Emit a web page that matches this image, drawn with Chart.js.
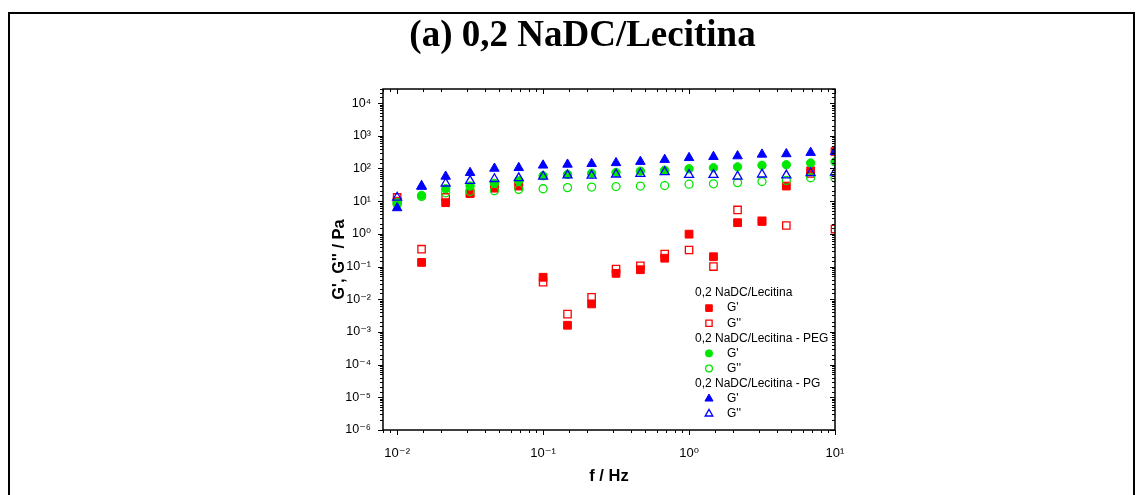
<!DOCTYPE html>
<html>
<head>
<meta charset="utf-8">
<title>0,2 NaDC/Lecitina</title>
<script src="https://cdn.jsdelivr.net/npm/chart.js@4.4.1/dist/chart.umd.min.js"></script>
<style>
    html, body { margin: 0; padding: 0; background: #fff; }
    #wrap { position: relative; width: 1141px; height: 495px; overflow: hidden; }
    #frame {
        position: absolute; left: 8px; top: 12px; width: 1123px; height: 500px;
        border-left: 2px solid #000; border-top: 2px solid #000; border-right: 2px solid #000;
    }
    canvas { position: absolute; left: 0; top: 0; }
</style>
</head>
<body>
<div id="wrap">
    <div id="frame"></div>
    <canvas id="rheoChart" width="1141" height="495"></canvas>
</div>
<script>
// frequency (Hz)
const freq = [0.01, 0.0147, 0.0215, 0.0316, 0.0464, 0.0681, 0.1, 0.147, 0.215, 0.316,
              0.464, 0.681, 1, 1.47, 2.15, 3.16, 4.64, 6.81, 10];

// 0,2 NaDC/Lecitina
const lecGp  = [10, 0.134, 9, 17, 25, 29, 0.047, 0.0016, 0.0072, 0.062,
                0.08, 0.18, 0.98, 0.2, 2.2, 2.4, 29, 85, 330];
const lecGpp = [13, 0.34, 13, 18, 27, 31, 0.033, 0.0035, 0.0115, 0.084,
                0.106, 0.24, 0.32, 0.1, 5.4, 2.5, 1.8, 70, 1.4];

// 0,2 NaDC/Lecitina - PEG
const pegGp  = [9, 15, 24, 29, 35, 42, 60, 66, 71, 76,
                83, 88, 98, 105, 112, 125, 130, 147, 160];
const pegGpp = [8, 14, 18, 20, 21, 23, 24, 26, 27, 28,
                29, 30, 33, 34, 37, 40, 43, 52, 51];

// 0,2 NaDC/Lecitina - PG
const pgGp  = [6.2, 28, 57, 74, 100, 105, 125, 133, 139, 148,
               162, 186, 212, 229, 240, 270, 278, 305, 324];
const pgGpp = [13, 29, 35, 42, 48, 51, 57, 62, 61, 66,
               69, 78, 64, 64, 57, 66, 62, 73, 76];

const legendGroups = ['0,2 NaDC/Lecitina', '0,2 NaDC/Lecitina - PEG', '0,2 NaDC/Lecitina - PG'];
const modulusNames = ["G'", "G''"];

const RED = '#ff0000', GREEN = '#00e800', BLUE = '#0000ff';

function pts(values) {
    return freq.map((f, i) => ({ x: f, y: values[i] }));
}

function series(label, values, color, style, filled, radius, order) {
    return {
        label: label,
        data: pts(values),
        pointStyle: style,
        pointRadius: radius,
        pointHoverRadius: radius,
        borderColor: color,
        backgroundColor: filled ? color : 'rgba(255,255,255,0)',
        borderWidth: filled ? 1 : 1.3,
        showLine: false,
        order: order
    };
}

const datasets = [
    series(legendGroups[0] + " G'",  lecGp,  RED,   'rect',     true,  5.5, 5),
    series(legendGroups[0] + " G''", lecGpp, RED,   'rect',     false, 5.2, 4),
    series(legendGroups[1] + " G'",  pegGp,  GREEN, 'circle',   true,  4.2, 3),
    series(legendGroups[1] + " G''", pegGpp, GREEN, 'circle',   false, 4.0, 2),
    series(legendGroups[2] + " G'",  pgGp,   BLUE,  'triangle', true,  5.5, 1),
    series(legendGroups[2] + " G''", pgGpp,  BLUE,  'triangle', false, 5.2, 0)
];

const SUP = { '-': '\u207B', '0': '\u2070', '1': '\u00B9', '2': '\u00B2', '3': '\u00B3',
              '4': '\u2074', '5': '\u2075', '6': '\u2076', '7': '\u2077', '8': '\u2078', '9': '\u2079' };

function isDecade(v) {
    const e = Math.log10(v);
    return Math.abs(e - Math.round(e)) < 1e-9;
}

function decadeLabel(v) {
    if (!isDecade(v)) return '';
    const e = String(Math.round(Math.log10(v)));
    return '10' + e.split('').map(c => SUP[c]).join('');
}

const FONT = '"Liberation Sans", Arial, "DejaVu Sans", sans-serif';

// tick marks on all four sides + plot frame
const framePlugin = {
    id: 'framePlugin',
    afterDraw(chart) {
        const ctx = chart.ctx;
        const a = chart.chartArea;
        const xs = chart.scales.x, ys = chart.scales.y;
        ctx.save();
        ctx.strokeStyle = '#000';
        ctx.lineWidth = 1;
        ctx.beginPath();
        xs.ticks.forEach(t => {
            const px = Math.round(xs.getPixelForValue(t.value)) + 0.5;
            if (px < a.left - 1 || px > a.right + 1) return;
            const len = isDecade(t.value) ? 5 : 3;
            ctx.moveTo(px, a.bottom); ctx.lineTo(px, a.bottom + len);
            ctx.moveTo(px, a.top); ctx.lineTo(px, a.top + len);
        });
        ys.ticks.forEach(t => {
            const py = Math.round(ys.getPixelForValue(t.value)) + 0.5;
            if (py < a.top - 1 || py > a.bottom + 1) return;
            const len = isDecade(t.value) ? 5 : 3;
            ctx.moveTo(a.left - len, py); ctx.lineTo(a.left, py);
            ctx.moveTo(a.right - len, py); ctx.lineTo(a.right, py);
        });
        ctx.stroke();
        ctx.lineWidth = 1.5;
        ctx.strokeRect(a.left, a.top, a.right - a.left, a.bottom - a.top);
        ctx.restore();
    }
};

// grouped legend drawn inside the plot
const groupLegend = {
    id: 'groupLegend',
    afterDatasetsDraw(chart) {
        const ctx = chart.ctx;
        const a = chart.chartArea;
        const x0 = a.right - 140;
        let y = a.bottom - 137;
        const step = 15.1;
        ctx.save();
        ctx.font = '12px ' + FONT;
        ctx.fillStyle = '#000';
        ctx.textBaseline = 'middle';
        ctx.textAlign = 'left';
        legendGroups.forEach((g, gi) => {
            ctx.fillStyle = '#000';
            ctx.fillText(g, x0, y);
            y += step;
            modulusNames.forEach((m, mi) => {
                const ds = chart.data.datasets[gi * 2 + mi];
                ctx.strokeStyle = ds.borderColor;
                ctx.fillStyle = ds.backgroundColor;
                ctx.lineWidth = ds.borderWidth;
                Chart.helpers.drawPoint(ctx, {
                    pointStyle: ds.pointStyle,
                    radius: ds.pointRadius * 0.85,
                    rotation: 0,
                    borderWidth: ds.borderWidth
                }, x0 + 14, y);
                ctx.fillStyle = '#000';
                ctx.fillText(m, x0 + 32, y);
                y += step;
            });
        });
        ctx.restore();
    }
};

new Chart(document.getElementById('rheoChart'), {
    type: 'scatter',
    data: { datasets: datasets },
    options: {
        responsive: false,
        animation: false,
        events: [],
        layout: { padding: { left: 330, right: 306, top: 0, bottom: 8 } },
        plugins: {
            legend: { display: false },
            tooltip: { enabled: false },
            title: {
                display: true,
                text: '(a) 0,2 NaDC/Lecitina',
                color: '#000',
                font: { family: '"Liberation Serif", "Times New Roman", serif', size: 37, weight: 'bold' },
                padding: { top: 14, bottom: 30.6 }
            }
        },
        scales: {
            x: {
                type: 'logarithmic',
                position: 'bottom',
                min: 0.008,
                max: 10,
                grid: { display: false },
                border: { display: false },
                afterFit(scale) { scale.height = 57; },
                ticks: {
                    autoSkip: false,
                    maxRotation: 0,
                    padding: 8,
                    color: '#000',
                    font: { family: FONT, size: 13 },
                    callback: (v) => decadeLabel(v)
                },
                title: {
                    display: true,
                    text: 'f / Hz',
                    color: '#000',
                    font: { family: FONT, size: 16.5, weight: 'bold' },
                    padding: { top: 0, bottom: 1 }
                }
            },
            y: {
                type: 'logarithmic',
                position: 'left',
                min: 1e-6,
                max: 2.7e4,
                grid: { display: false },
                border: { display: false },
                afterFit(scale) { scale.width = 53; },
                ticks: {
                    autoSkip: false,
                    padding: 4,
                    color: '#000',
                    font: { family: FONT, size: 12.5 },
                    callback: (v) => decadeLabel(v)
                },
                title: {
                    display: true,
                    text: "G', G'' / Pa",
                    color: '#000',
                    font: { family: FONT, size: 16.5, weight: 'bold' },
                    padding: { top: 0, bottom: 0 }
                }
            }
        }
    },
    plugins: [framePlugin, groupLegend]
});
</script>
</body>
</html>
